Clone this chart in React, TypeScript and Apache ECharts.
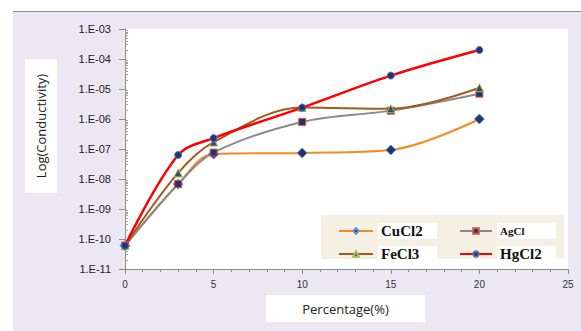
import React, { useEffect, useRef } from "react";
import * as echarts from "echarts";

const xValues = [0, 3, 5, 10, 15, 20];
const cuCl2 = [6e-11, 6.8e-9, 6.8e-8, 7.4e-8, 9.3e-8, 1.0e-6];
const agCl = [6e-11, 6.8e-9, 7.6e-8, 8e-7, 1.9e-6, 7e-6];
const feCl3 = [6e-11, 1.6e-8, 1.7e-7, 2.4e-6, 2.2e-6, 1.1e-5];
const hgCl2 = [6e-11, 6.3e-8, 2.3e-7, 2.4e-6, 2.8e-5, 2.0e-4];
const xTitle = "Percentage(%)";
const yTitle = "Log(Conductivity)";
const yMinorTicks: number[] = [];
for (let e = -11; e < -3; e++) {
  for (let m = 2; m <= 9; m++) yMinorTicks.push(m * Math.pow(10, e));
}

const pairs = (ys: number[]) => xValues.map((x, i) => [x, ys[i]]);

export default function App() {
  const ref = useRef<HTMLDivElement>(null);
  useEffect(() => {
    if (!ref.current) return;
    const chart = echarts.init(ref.current, null, { renderer: "svg" });
    const navy = "#1f3470";
    const legendText = {
      fontFamily: "Liberation Serif",
      fontWeight: "bold" as const,
      fontSize: 15,
      color: "#111",
      backgroundColor: "#fff",
      padding: [1, 4, 0, 3],
      width: 52,
    };
    const titleFont = { fontFamily: "Open Sans", fontSize: 13, fill: "#222" };
    chart.setOption({
      animation: false,
      grid: {
        left: 125,
        top: 29,
        right: 13,
        bottom: 62,
        show: true,
        backgroundColor: "#ffffff",
        borderWidth: 0,
      },
      graphic: [
        {
          type: "rect",
          shape: { x: 321, y: 215, width: 243, height: 44 },
          style: { fill: "#f4f1e4" },
          z: 3,
        },
        {
          type: "rect",
          shape: { x: 25, y: 59, width: 32, height: 134 },
          style: { fill: "#ffffff" },
          z: 3,
        },
        {
          type: "text",
          x: 41,
          y: 126,
          rotation: Math.PI / 2,
          style: { ...titleFont, text: yTitle, align: "center", verticalAlign: "middle" },
          z: 4,
        },
        {
          type: "rect",
          shape: { x: 266, y: 295, width: 159, height: 27 },
          style: { fill: "#ffffff" },
          z: 3,
        },
        {
          type: "text",
          x: 345.5,
          y: 308.5,
          style: { ...titleFont, text: xTitle, align: "center", verticalAlign: "middle" },
          z: 4,
        },
      ],
      legend: [
        {
          left: 333,
          top: 218,
          orient: "vertical",
          itemWidth: 34,
          itemHeight: 7,
          itemGap: 7,
          data: ["CuCl2", "FeCl3"],
          textStyle: legendText,
        },
        {
          left: 454,
          top: 218,
          orient: "vertical",
          itemWidth: 32,
          itemHeight: 7,
          itemGap: 7,
          data: [
            { name: "AgCl", textStyle: { ...legendText, fontSize: 11, padding: [3, 4, 2, 3] } },
            "HgCl2",
          ],
          textStyle: legendText,
        },
      ],
      xAxis: {
        type: "value",
        min: 0,
        max: 25,
        interval: 5,
        axisLine: { lineStyle: { color: "#8c8c8c", width: 1 } },
        axisTick: { length: 5, lineStyle: { color: "#8c8c8c" } },
        minorTick: { show: true, splitNumber: 5, length: 3, lineStyle: { color: "#8c8c8c" } },
        splitLine: { show: false },
        axisLabel: { fontFamily: "Liberation Sans", fontSize: 10, color: "#333", margin: 10 },
      },
      yAxis: [
        {
          type: "log",
          logBase: 10,
          min: 1e-11,
          max: 1e-3,
          interval: 1,
          axisLine: { show: true, lineStyle: { color: "#8c8c8c", width: 1 } },
          axisTick: { show: true, length: 6, lineStyle: { color: "#8c8c8c" } },
          splitLine: { show: false },
          axisLabel: {
            fontFamily: "Liberation Sans",
            fontSize: 11,
            color: "#222",
            margin: 14,
            formatter: (v: number) => {
              const e = Math.round(Math.log10(v));
              const a = Math.abs(e);
              return "1.E" + (e < 0 ? "-" : "+") + (a < 10 ? "0" + a : String(a));
            },
          },
        },
        {
          type: "log",
          logBase: 10,
          min: 1e-11,
          max: 1e-3,
          position: "left",
          offset: 0,
          axisLine: { show: false },
          axisLabel: { show: false },
          splitLine: { show: false },
          axisTick: {
            show: true,
            inside: true,
            length: 3,
            customValues: yMinorTicks,
            lineStyle: { color: "#a0a0a0" },
          },
        },
      ],
      series: [
        {
          name: "CuCl2",
          type: "line",
          smooth: 0.35,
          data: pairs(cuCl2),
          symbol: "diamond",
          symbolSize: 10,
          lineStyle: { color: "#f58a1f", width: 2 },
          itemStyle: { color: navy, borderColor: "#6f8fd0", borderWidth: 1 },
        },
        {
          name: "AgCl",
          type: "line",
          smooth: 0.35,
          data: pairs(agCl),
          symbol: "rect",
          symbolSize: 7,
          lineStyle: { color: "#8a8a8a", width: 2 },
          itemStyle: { color: navy, borderColor: "#d9534f", borderWidth: 1 },
        },
        {
          name: "FeCl3",
          type: "line",
          smooth: 0.35,
          data: pairs(feCl3),
          symbol: "triangle",
          symbolSize: 8,
          lineStyle: { color: "#a5591f", width: 2 },
          itemStyle: { color: "#2f4f6f", borderColor: "#9bc25a", borderWidth: 1 },
        },
        {
          name: "HgCl2",
          type: "line",
          smooth: 0.35,
          data: pairs(hgCl2),
          symbol: "circle",
          symbolSize: 7,
          lineStyle: { color: "#ff0000", width: 2.5 },
          itemStyle: { color: navy, borderColor: "#5a6fb0", borderWidth: 1 },
        },
      ],
    });
    return () => chart.dispose();
  }, []);
  return (
    <div style={{ position: "absolute", left: 0, top: 0, width: 581, height: 331, background: "#fff" }}>
      <div
        style={{
          position: "absolute",
          left: 13,
          top: 11,
          width: 568,
          height: 320,
          background: "#ebe8f3",
          borderTop: "1.5px solid #8a8a8a",
        }}
      />
      <div ref={ref} style={{ position: "absolute", left: 0, top: 0, width: 581, height: 331 }} />
    </div>
  );
}
